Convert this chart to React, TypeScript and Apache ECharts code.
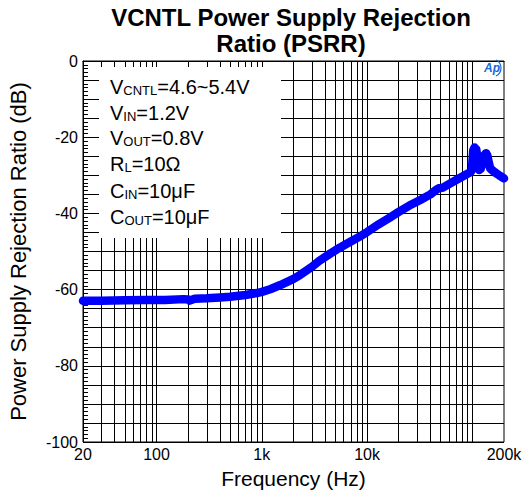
import React, { useEffect, useRef } from 'react';
import * as echarts from 'echarts';

// Measured PSRR curve (frequency in Hz, PSRR in dB)
const freqHz = [
  20, 30, 50, 80, 120, 180, 200, 206, 230, 300, 400, 500, 700, 900, 1000, 1200, 1500,
  2000, 2300, 3000, 3500, 4500, 5500, 7000, 8500, 10000, 13000, 16000, 20000, 25000,
  32000, 40000, 45000, 48000, 52000, 60000, 76000, 90000, 96000, 99000, 102000, 105000,
  109000, 112000, 116000, 120000, 126000, 131000, 135000, 139000, 143000, 148000,
  152000, 165000, 180000, 200000,
];
const psrrDb = [
  -62.9, -62.9, -62.8, -62.7, -62.7, -62.5, -62.6, -62.9, -62.4, -62.3, -62.1, -61.9, -61.4, -60.9, -60.6, -59.9, -58.8,
  -57.2, -56.2, -54.0, -52.5, -50.5, -49.0, -47.4, -46.1, -44.9, -42.8, -41.3, -39.6, -38.0,
  -36.5, -35.0, -33.9, -33.4, -33.3, -32.3, -30.7, -29.6, -29.2, -28.6, -23.5, -22.7,
  -23.2, -25.5, -28.6, -28.3, -26.5, -24.6, -24.2, -24.8, -26.5, -28.2,
  -28.5, -29.3, -30.0, -30.8,
];

// Vertical grid lines (Hz)
const gridFreqs = [
  30, 40, 50, 60, 70, 80, 90, 100,
  200, 300, 400, 500, 600, 700, 800, 900, 1000,
  2000, 3000, 4000, 5000, 6000, 7000, 8000, 9000, 10000,
  20000, 30000, 40000, 50000, 60000, 70000, 80000, 90000, 100000,
];

const xTickValues = [20, 100, 1000, 10000, 200000];
const xTickLabels = ['20', '100', '1k', '10k', '200k'];
const yTickValues = [0, -20, -40, -60, -80, -100];
const yTickLabels = ['0', '-20', '-40', '-60', '-80', '-100'];

const titleLines = ['VCNTL Power Supply Rejection', 'Ratio (PSRR)'];
const conditionMain = ['V', 'V', 'V', 'R', 'C', 'C'];
const conditionSub = ['CNTL', 'IN', 'OUT', 'L', 'IN', 'OUT'];
const conditionRest = ['=4.6~5.4V', '=1.2V', '=0.8V', '=10Ω', '=10μF', '=10μF'];

const FONT = '"Liberation Sans", Arial, sans-serif';

export default function App() {
  const ref = useRef<HTMLDivElement>(null);

  useEffect(() => {
    if (!ref.current) return;
    const chart = echarts.init(ref.current, null, { renderer: 'svg' });

    const condYs = [86, 112, 137, 163, 190, 216];
    const condGraphics = conditionMain.map((m, i) => ({
      type: 'text',
      x: 110,
      y: condYs[i],
      z: 11,
      style: {
        text: `{m|${m}}{s|${conditionSub[i]}}{m|${conditionRest[i]}}`,
        verticalAlign: 'middle',
        align: 'left',
        rich: {
          m: { fontSize: 20, fontFamily: FONT, fill: '#000', lineHeight: 22, verticalAlign: 'bottom' },
          s: { fontSize: 13, fontFamily: FONT, fill: '#000', lineHeight: 11, verticalAlign: 'bottom' },
        },
      },
    }));

    const option: any = {
      animation: false,
      backgroundColor: '#fff',
      grid: {
        left: 83,
        right: 21,
        top: 61,
        bottom: 51,
        show: true,
        borderColor: '#000',
        borderWidth: 1,
        backgroundColor: 'transparent',
        containLabel: false,
        outerBoundsMode: 'none',
      },
      xAxis: {
        type: 'log',
        logBase: 10,
        min: 20,
        max: 200000,
        name: 'Frequency (Hz)',
        nameLocation: 'middle',
        nameGap: 26,
        nameTextStyle: { fontSize: 21, fontFamily: FONT, color: '#000' },
        axisLine: { show: true, lineStyle: { color: '#000', width: 1 } },
        axisTick: { show: false },
        splitLine: { show: false },
        minorTick: { show: false },
        minorSplitLine: { show: false },
        axisLabel: {
          show: true,
          margin: 4,
          fontSize: 16,
          fontFamily: FONT,
          color: '#000',
          showMinLabel: true,
          showMaxLabel: true,
          formatter: (v: number) => {
            const idx = xTickValues.findIndex((t) => Math.abs(t - v) / t < 1e-6);
            return idx >= 0 ? xTickLabels[idx] : '';
          },
        },
      },
      yAxis: {
        type: 'value',
        min: -100,
        max: 0,
        interval: 5,
        name: 'Power Supply Rejection Ratio (dB)',
        nameLocation: 'middle',
        nameGap: 54,
        nameTextStyle: { fontSize: 22, fontFamily: FONT, color: '#000' },
        axisLine: { show: true, lineStyle: { color: '#000', width: 1 } },
        axisTick: { show: true, inside: true, length: 5, lineStyle: { color: '#000' } },
        minorTick: { show: true, splitNumber: 5, length: 5, lineStyle: { color: '#000' } },
        splitLine: { show: true, lineStyle: { color: '#000', width: 1 } },
        axisLabel: {
          margin: 5,
          fontSize: 16,
          fontFamily: FONT,
          color: '#000',
          formatter: (v: number) => {
            const idx = yTickValues.findIndex((t) => Math.abs(t - v) < 1e-6);
            return idx >= 0 ? yTickLabels[idx] : '';
          },
        },
      },
      series: [
        {
          type: 'line',
          name: 'grid',
          data: [],
          silent: true,
          markLine: {
            silent: true,
            symbol: ['none', 'none'],
            label: { show: false },
            emphasis: { disabled: true },
            lineStyle: { color: '#000', width: 1, type: 'solid' },
            data: gridFreqs.map((f) => ({ xAxis: f })),
          },
        },
        {
          type: 'line',
          name: 'PSRR',
          z: 20,
          data: freqHz.map((f, i) => [f, psrrDb[i]]),
          showSymbol: false,
          symbol: 'none',
          lineStyle: { color: '#0000ff', width: 8.5, cap: 'round', join: 'round' },
          itemStyle: { color: '#0000ff' },
        },
      ],
      graphic: [
        {
          type: 'rect',
          z: 10,
          shape: { x: 99, y: 67, width: 182, height: 171 },
          style: { fill: '#fff' },
        },
        ...condGraphics,
        {
          type: 'text',
          x: 291,
          y: 17,
          z: 11,
          style: {
            text: titleLines[0],
            fontSize: 24,
            fontWeight: 'bold',
            fontFamily: FONT,
            fill: '#000',
            align: 'center',
            verticalAlign: 'middle',
          },
        },
        {
          type: 'text',
          x: 291,
          y: 43,
          z: 11,
          style: {
            text: titleLines[1],
            fontSize: 24,
            fontWeight: 'bold',
            fontFamily: FONT,
            fill: '#000',
            align: 'center',
            verticalAlign: 'middle',
          },
        },
        {
          type: 'text',
          x: 492,
          y: 68,
          z: 11,
          style: {
            text: 'Ap',
            fontSize: 12,
            fontWeight: 'bold',
            fontStyle: 'italic',
            fontFamily: FONT,
            fill: '#1a66d9',
            align: 'center',
            verticalAlign: 'middle',
          },
        },
        {
          type: 'arc',
          z: 11,
          shape: { cx: 492, cy: 68, r: 9, startAngle: -1.1, endAngle: 1.1 },
          style: { stroke: '#1a66d9', lineWidth: 1.2, fill: 'none' },
        },
      ],
    };

    chart.setOption(option);
    return () => {
      chart.dispose();
    };
  }, []);

  return (
    <div
      ref={ref}
      style={{ position: 'fixed', left: 0, top: 0, width: 525, height: 493, background: '#fff' }}
    />
  );
}
